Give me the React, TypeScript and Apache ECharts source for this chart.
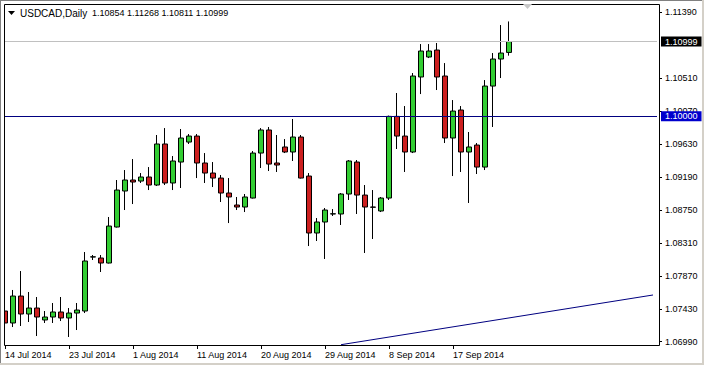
import React, { useEffect, useRef } from "react";
import * as echarts from "echarts";

const dates = [
  "14 Jul 2014","15 Jul 2014","16 Jul 2014","17 Jul 2014","18 Jul 2014","20 Jul 2014","21 Jul 2014","22 Jul 2014",
  "23 Jul 2014","24 Jul 2014","25 Jul 2014","27 Jul 2014","28 Jul 2014","29 Jul 2014","30 Jul 2014","31 Jul 2014",
  "1 Aug 2014","3 Aug 2014","4 Aug 2014","5 Aug 2014","6 Aug 2014","7 Aug 2014","8 Aug 2014","10 Aug 2014",
  "11 Aug 2014","12 Aug 2014","13 Aug 2014","14 Aug 2014","15 Aug 2014","17 Aug 2014","18 Aug 2014","19 Aug 2014",
  "20 Aug 2014","21 Aug 2014","22 Aug 2014","24 Aug 2014","25 Aug 2014","26 Aug 2014","27 Aug 2014","28 Aug 2014",
  "29 Aug 2014","31 Aug 2014","1 Sep 2014","2 Sep 2014","3 Sep 2014","4 Sep 2014","5 Sep 2014","7 Sep 2014",
  "8 Sep 2014","9 Sep 2014","10 Sep 2014","11 Sep 2014","12 Sep 2014","14 Sep 2014","15 Sep 2014","16 Sep 2014",
  "17 Sep 2014","18 Sep 2014","19 Sep 2014","21 Sep 2014","22 Sep 2014","23 Sep 2014","24 Sep 2014","25 Sep 2014",
];

const opens = [
  1.07400,1.07240,1.07600,1.07360,1.07440,1.07280,1.07320,1.07387,1.07307,1.07373,
  1.07400,1.08121,1.08108,1.08041,1.08522,1.09003,1.09150,1.09136,1.09190,1.09083,
  1.09631,1.09110,1.09390,1.09657,1.09737,1.09377,1.09243,1.09176,1.08976,1.08816,
  1.08789,1.08909,1.09510,1.09818,1.09377,1.09591,1.09524,1.09724,1.09203,1.08442,
  1.08589,1.08696,1.08696,1.08963,1.09390,1.08949,1.08789,1.08736,1.08909,1.10000,
  1.09737,1.09524,1.10526,1.10793,1.10886,1.10539,1.09711,1.10085,1.09524,1.09617,
  1.09323,1.10405,1.10766,1.10854,
];
const closes = [
  1.07240,1.07600,1.07360,1.07440,1.07320,1.07320,1.07387,1.07307,1.07373,1.07413,
  1.08068,1.08124,1.08041,1.08535,1.09016,1.09150,1.09123,1.09190,1.09083,1.09631,
  1.09110,1.09404,1.09711,1.09737,1.09377,1.09243,1.09176,1.08976,1.08923,1.08789,
  1.08923,1.09510,1.09818,1.09363,1.09350,1.09524,1.09724,1.09176,1.08442,1.08589,
  1.08749,1.08699,1.08963,1.09404,1.08949,1.08789,1.08786,1.08909,1.10000,1.09737,
  1.09524,1.10539,1.10873,1.10873,1.10526,1.09711,1.10071,1.09524,1.09591,1.09323,
  1.10405,1.10766,1.10846,1.10999,
];
const lows = [
  1.07039,1.07186,1.07200,1.07253,1.07066,1.07240,1.07240,1.07266,1.07053,1.07146,
  1.07373,1.08081,1.07921,1.08035,1.08515,1.08749,1.08829,1.09110,1.09016,1.09070,
  1.09083,1.09016,1.09043,1.09631,1.09176,1.09110,1.09056,1.08856,1.08575,1.08749,
  1.08722,1.08903,1.09310,1.09270,1.09257,1.09510,1.09404,1.09170,1.08268,1.08335,
  1.08095,1.08669,1.08549,1.08883,1.08696,1.08175,1.08362,1.08722,1.08883,1.09564,
  1.09257,1.09510,1.10298,1.10779,1.10352,1.09644,1.09203,1.09257,1.08843,1.09230,
  1.09283,1.09858,1.10512,1.10811,
];
const highs = [
  1.07467,1.07681,1.07934,1.07654,1.07587,1.07400,1.07507,1.07587,1.07440,1.07507,
  1.08188,1.08148,1.08148,1.08656,1.09150,1.09283,1.09430,1.09243,1.09323,1.09751,
  1.09844,1.09470,1.09831,1.09764,1.09764,1.09510,1.09390,1.09217,1.09176,1.08923,
  1.08963,1.09537,1.09844,1.09858,1.09751,1.09697,1.09965,1.09751,1.09243,1.08642,
  1.08776,1.08762,1.08976,1.09417,1.09417,1.09083,1.09016,1.08923,1.10010,1.10312,
  1.10138,1.10579,1.10966,1.10966,1.10980,1.10712,1.10218,1.10138,1.09791,1.09644,
  1.10485,1.10846,1.11220,1.11268,
];

const axisDateLabels = [
  "14 Jul 2014","23 Jul 2014","1 Aug 2014","11 Aug 2014","20 Aug 2014","29 Aug 2014","8 Sep 2014","17 Sep 2014",
];
const priceTicks = [1.1139, 1.1051, 1.1007, 1.0963, 1.0919, 1.0875, 1.0831, 1.0787, 1.0743, 1.0699];
const yMin = 1.06946;
const yMax = 1.11501;
const futureSlots = 18;
const levelLine = 1.1;
const bidPrice = 1.10999;
const trendFrom = [42, 1.0695];
const trendTo = [81, 1.07614];
const symbolName = "USDCAD,Daily";

export default function App() {
  const ref = useRef<HTMLDivElement>(null);
  useEffect(() => {
    document.body.style.margin = "0";
    const chart = echarts.init(ref.current!, null, { renderer: "svg" });
    const cats = [...dates, ...Array.from({ length: futureSlots }, (_, i) => `+${i + 1}`)];
    const candles = dates.map((_, i) => [opens[i], closes[i], lows[i], highs[i]]);
    const font = "'Liberation Sans', Arial, sans-serif";
    const last = dates.length - 1;
    const showLabel = (_i: number, v: string) => axisDateLabels.includes(v);
    const tag = (bg: string, value: number) => ({
      show: true,
      position: "end",
      distance: 4,
      formatter: () => value.toFixed(5),
      backgroundColor: bg,
      color: "#ffffff",
      fontSize: 9,
      fontFamily: font,
      lineHeight: 9,
      padding: [1, 4, 0, 4],
    });
    chart.setOption({
      animation: false,
      backgroundColor: "#ffffff",
      grid: { left: 1, top: 4, width: 656, height: 341 },
      xAxis: {
        type: "category",
        data: cats,
        boundaryGap: true,
        axisLine: { show: false },
        axisTick: { show: true, alignWithLabel: true, length: 4, interval: showLabel, lineStyle: { color: "#000" } },
        axisLabel: { interval: showLabel, align: "left", margin: 5, fontSize: 9, fontFamily: font, color: "#000" },
        splitLine: { show: false },
      },
      yAxis: {
        type: "value",
        position: "right",
        offset: 2,
        min: yMin,
        max: yMax,
        scale: true,
        axisLine: { show: false },
        axisTick: { show: true, length: 3, customValues: priceTicks, lineStyle: { color: "#000" } },
        axisLabel: {
          customValues: priceTicks,
          margin: 6,
          fontSize: 9,
          fontFamily: font,
          color: "#000",
          formatter: (v: number) => v.toFixed(5),
        },
        splitLine: { show: false },
      },
      series: [
        {
          type: "candlestick",
          data: candles,
          barWidth: 5,
          clip: true,
          itemStyle: {
            color: "#32cd32",
            color0: "#cc1f1f",
            borderColor: "#000000",
            borderColor0: "#000000",
            borderColorDoji: "#000000",
            borderWidth: 1,
          },
          markLine: {
            silent: true,
            symbol: ["none", "none"],
            animation: false,
            precision: 5,
            lineStyle: { color: "#000080", width: 1, type: "solid" },
            label: { show: false },
            data: [
              { yAxis: bidPrice, lineStyle: { color: "#c0c0c0", width: 1, type: "solid" }, label: tag("#000000", bidPrice) },
              { yAxis: levelLine, lineStyle: { color: "#000080", width: 1, type: "solid" }, label: tag("#0000cd", levelLine) },
              [{ coord: trendFrom }, { coord: trendTo }],
            ],
          },
        },
      ],
      graphic: [
        { type: "rect", z: 100, shape: { x: 0, y: 0, width: 4, height: 365 }, style: { fill: "#ffffff" } },
        { type: "rect", z: 101, shape: { x: 4.5, y: 4.5, width: 655, height: 341 }, style: { fill: "none", stroke: "#000000", lineWidth: 1 } },
        { type: "polygon", z: 101, shape: { points: [[523, 4], [532, 4], [527.5, 9]] }, style: { fill: "#c8c8c8" } },
        { type: "polygon", z: 101, shape: { points: [[8, 11], [15, 11], [11.5, 15]] }, style: { fill: "#000000" } },
        { type: "text", z: 101, x: 20, y: 13, style: { text: symbolName, fontSize: 10, fontFamily: font, fill: "#000", verticalAlign: "middle" } },
        {
          type: "text", z: 101, x: 92, y: 13,
          style: {
            text: [opens[last], highs[last], lows[last], closes[last]].map((v) => v.toFixed(5)).join(" "),
            fontSize: 9, fontFamily: font, fill: "#000", verticalAlign: "middle",
          },
        },
        { type: "line", z: 102, shape: { x1: 0.5, y1: 0, x2: 0.5, y2: 365 }, style: { stroke: "#808080", lineWidth: 1 } },
        { type: "line", z: 102, shape: { x1: 0, y1: 0.5, x2: 704, y2: 0.5 }, style: { stroke: "#808080", lineWidth: 1 } },
        { type: "line", z: 102, shape: { x1: 703, y1: 0, x2: 703, y2: 365 }, style: { stroke: "#d4d0c8", lineWidth: 2 } },
        { type: "line", z: 102, shape: { x1: 0, y1: 364, x2: 704, y2: 364 }, style: { stroke: "#d4d0c8", lineWidth: 2 } },
      ],
    });
    return () => chart.dispose();
  }, []);
  return <div ref={ref} style={{ position: "fixed", left: 0, top: 0, width: 704, height: 365 }} />;
}
